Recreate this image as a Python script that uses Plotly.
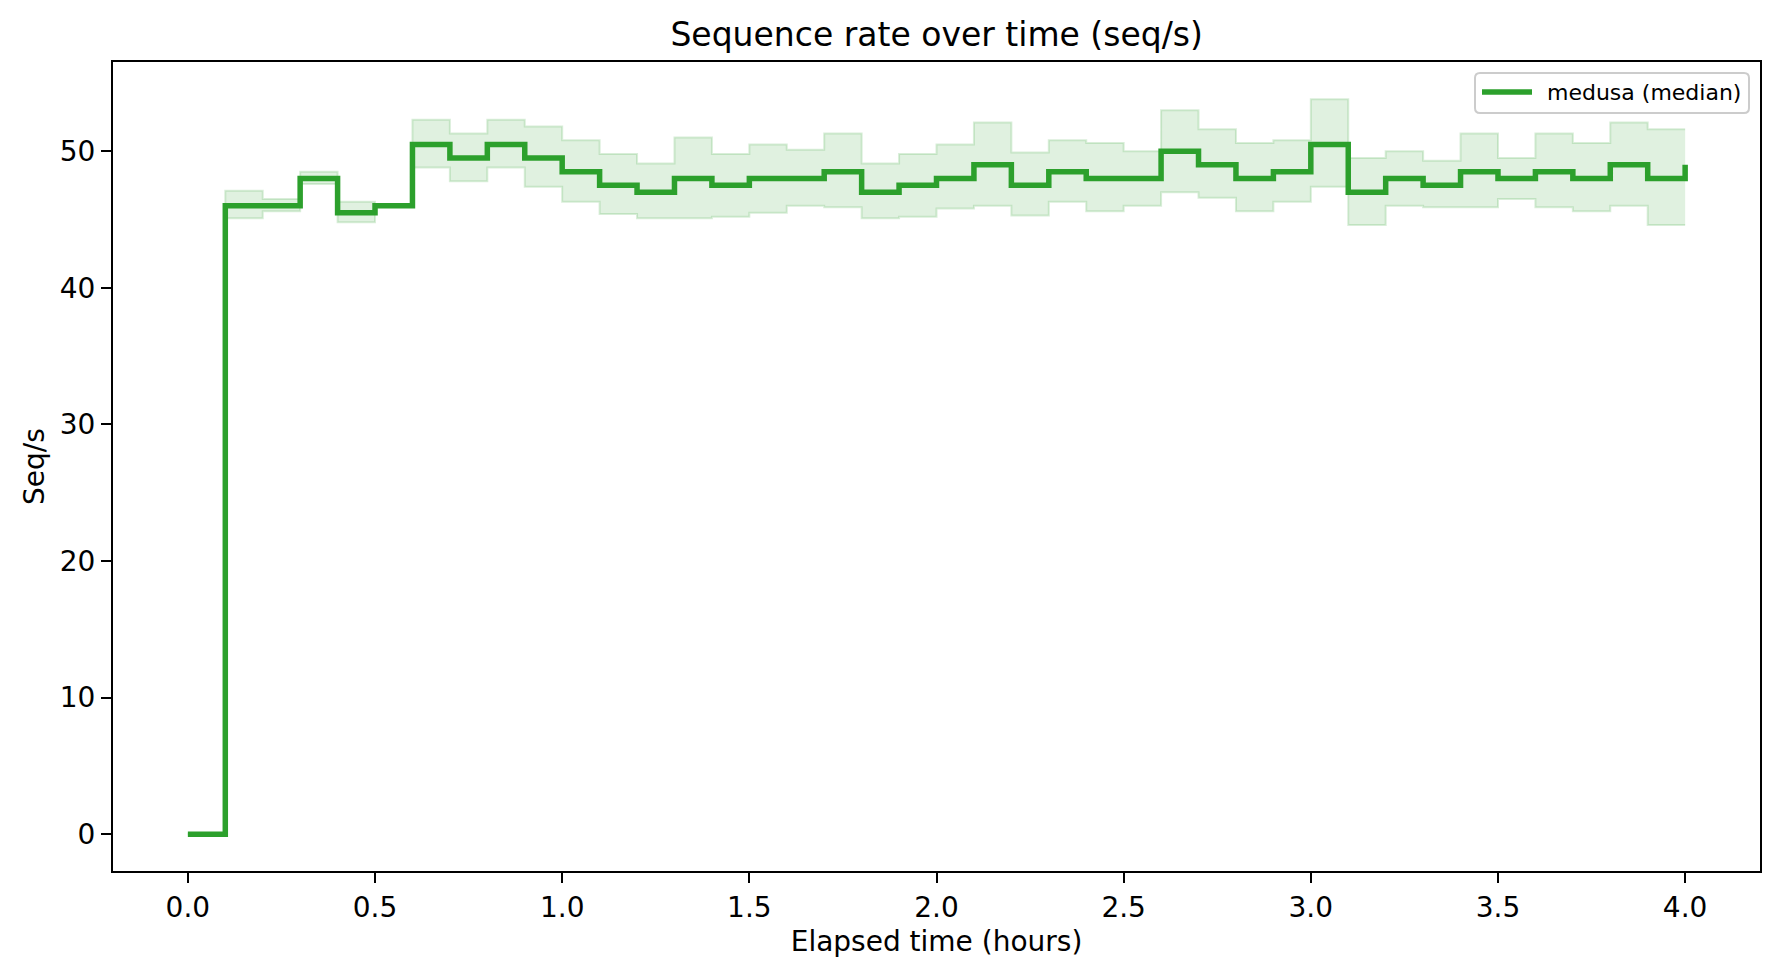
import plotly.graph_objects as go

times = [0.0, 0.1, 0.2, 0.3, 0.4, 0.5, 0.6, 0.7, 0.8, 0.9, 1.0, 1.1, 1.2, 1.3, 1.4,
         1.5, 1.6, 1.7, 1.8, 1.9, 2.0, 2.1, 2.2, 2.3, 2.4, 2.5, 2.6, 2.7, 2.8, 2.9,
         3.0, 3.1, 3.2, 3.3, 3.4, 3.5, 3.6, 3.7, 3.8, 3.9, 4.0]
median = [0, 46, 46, 48, 45.5, 46, 50.5, 49.5, 50.5, 49.5, 48.5, 47.5, 47, 48, 47.5,
          48, 48, 48.5, 47, 47.5, 48, 49, 47.5, 48.5, 48, 48, 50, 49, 48, 48.5,
          50.5, 47, 48, 47.5, 48.5, 48, 48.5, 48, 49, 48, 49]
upper = [0, 47.1, 46.5, 48.5, 46.3, 46.0, 52.3, 51.3, 52.3, 51.8, 50.8, 49.8, 49.1, 51.0, 49.8,
         50.5, 50.1, 51.3, 49.1, 49.8, 50.5, 52.1, 49.9, 50.8, 50.6, 50.0, 53.0, 51.6, 50.6, 50.8,
         53.8, 49.5, 50.0, 49.3, 51.3, 49.5, 51.3, 50.6, 52.1, 51.6, 51.6]
lower = [0, 45.1, 45.6, 47.6, 44.8, 46.0, 48.8, 47.8, 48.8, 47.4, 46.3, 45.4, 45.1, 45.1, 45.2,
         45.5, 46.0, 45.9, 45.1, 45.2, 45.8, 46.0, 45.3, 46.3, 45.6, 46.0, 47.0, 46.6, 45.6, 46.3,
         47.4, 44.6, 46.0, 45.9, 45.9, 46.5, 45.9, 45.6, 46.0, 44.6, 44.6]

x_ticks = [0.0, 0.5, 1.0, 1.5, 2.0, 2.5, 3.0, 3.5, 4.0]
y_ticks = [0, 10, 20, 30, 40, 50]
legend_label = "medusa (median)"

GREEN = "#2ca02c"
FONT = "DejaVu Sans"

W, H = 1779, 978
ML, MR, MT, MB = 113, 19, 62, 107
PW, PH = W - ML - MR, H - MT - MB


def px_x(p):
    return (p - ML) / PW


def px_y(p):
    return (H - MB - p) / PH


fig = go.Figure()
fig.add_trace(go.Scatter(
    x=times, y=lower, mode="lines", line=dict(shape="hv", color="rgba(44,160,44,0.18)", width=2),
    showlegend=False, hoverinfo="skip"))
fig.add_trace(go.Scatter(
    x=times, y=upper, mode="lines", line=dict(shape="hv", color="rgba(44,160,44,0.18)", width=2),
    fill="tonexty", fillcolor="rgba(44,160,44,0.15)", showlegend=False, hoverinfo="skip"))
fig.add_trace(go.Scatter(
    x=times, y=median, mode="lines", name=legend_label, showlegend=False,
    line=dict(shape="hv", color=GREEN, width=5.5)))

axis_common = dict(
    showline=True, linecolor="black", linewidth=2.2, mirror=True,
    ticks="outside", ticklen=10, tickwidth=2.2, tickcolor="black",
    showgrid=False, zeroline=False,
    tickfont=dict(family=FONT, size=28, color="black"),
)

fig.update_xaxes(
    range=[-0.2, 4.2], tickvals=x_ticks, ticktext=[f"{v:.1f}" for v in x_ticks],
    title=dict(text="Elapsed time (hours)", font=dict(family=FONT, size=28, color="black"), standoff=9),
    **axis_common)
fig.update_yaxes(
    range=[-2.69, 56.53], tickvals=y_ticks,
    title=dict(text="Seq/s", font=dict(family=FONT, size=28, color="black"), standoff=7),
    **axis_common)

# Legend drawn as a rounded box (matplotlib style)
bx0, bx1, by0, by1, r = 1475, 1749, 73, 113, 5
rx, ry = r / PW, r / PH
x0, x1, y0, y1 = px_x(bx0), px_x(bx1), px_y(by1), px_y(by0)
path = (f"M {x0+rx},{y0} L {x1-rx},{y0} Q {x1},{y0} {x1},{y0+ry} "
        f"L {x1},{y1-ry} Q {x1},{y1} {x1-rx},{y1} L {x0+rx},{y1} Q {x0},{y1} {x0},{y1-ry} "
        f"L {x0},{y0+ry} Q {x0},{y0} {x0+rx},{y0} Z")
fig.add_shape(type="path", path=path, xref="paper", yref="paper",
              fillcolor="rgba(255,255,255,0.8)", line=dict(color="#cccccc", width=2))
fig.add_shape(type="line", xref="paper", yref="paper",
              x0=px_x(1482), x1=px_x(1532), y0=px_y(92), y1=px_y(92),
              line=dict(color=GREEN, width=5.5))
fig.add_annotation(text=legend_label, xref="paper", yref="paper",
                   x=px_x(1545), y=px_y(92), xanchor="left", yanchor="middle",
                   showarrow=False, font=dict(family=FONT, size=22, color="black"))

fig.update_layout(
    width=W, height=H,
    margin=dict(l=ML, r=MR, t=MT, b=MB),
    paper_bgcolor="white", plot_bgcolor="white",
    font=dict(family=FONT, color="black"),
    showlegend=False,
    title=dict(text="Sequence rate over time (seq/s)", x=0.5265, xanchor="center",
               y=1 - 34 / 978, yanchor="middle", yref="container",
               font=dict(family=FONT, size=33, color="black")),
)

fig.write_html("out.html")
